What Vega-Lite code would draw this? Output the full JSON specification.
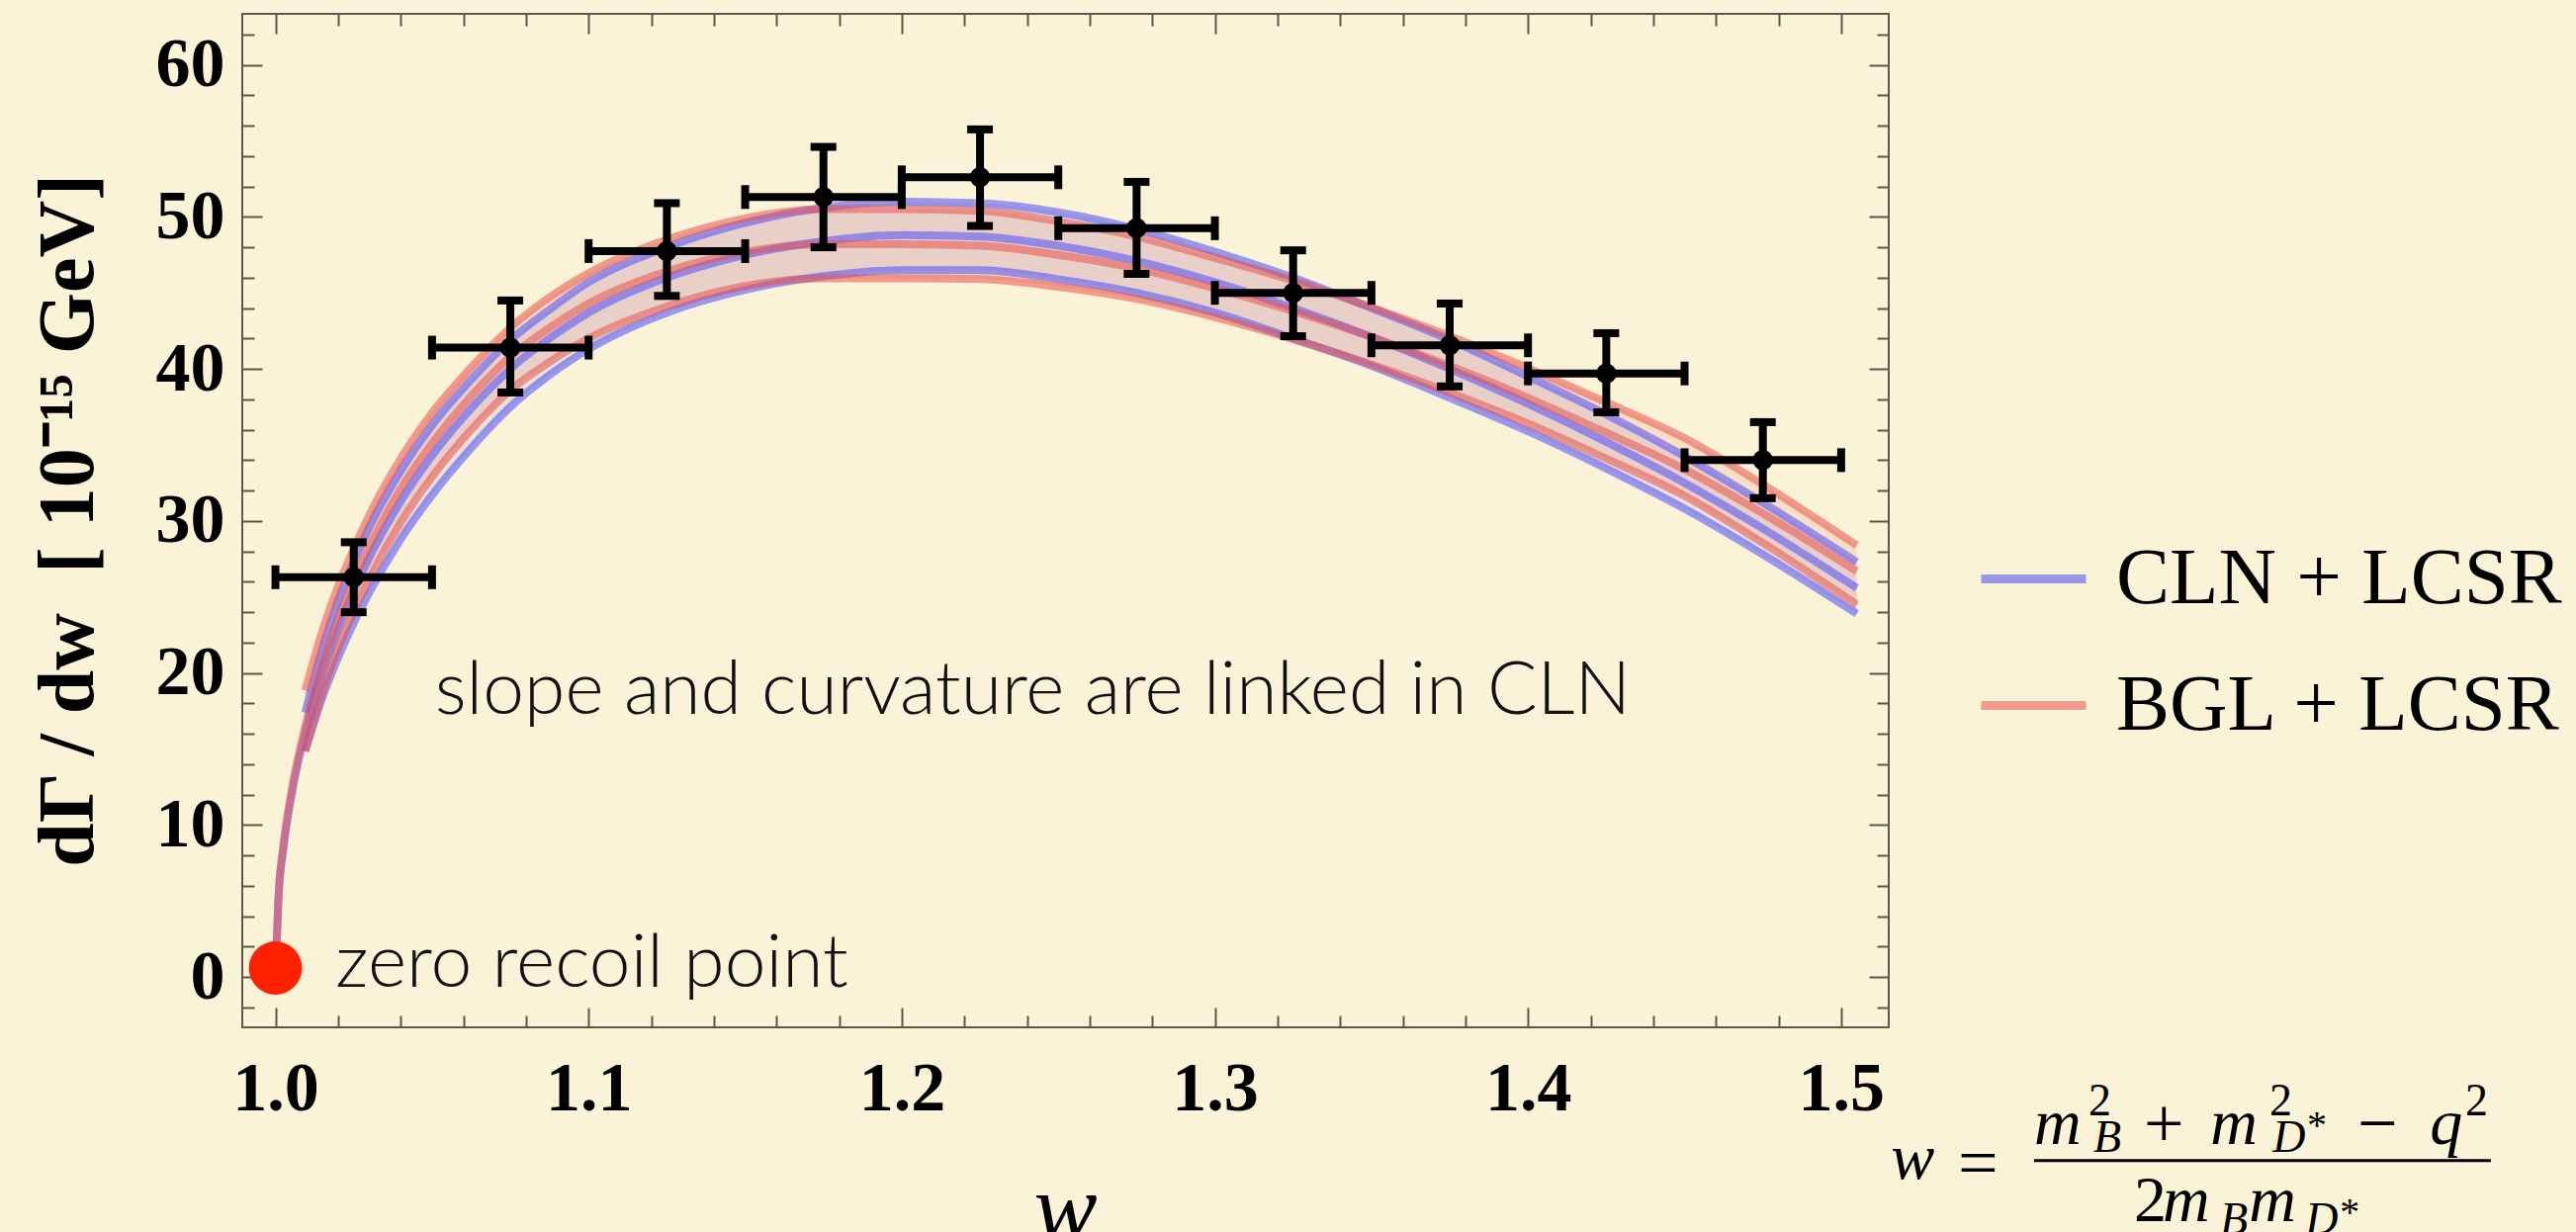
{
  "$schema": "https://vega.github.io/schema/vega-lite/v6.json",
  "width": 1665,
  "height": 1025,
  "autosize": "none",
  "padding": {"left": 245, "top": 14, "right": 695, "bottom": 207},
  "background": "#fbf3d8",
  "config": {
    "view": {"stroke": "#5c594c", "strokeWidth": 2},
    "axis": {"grid": false}
  },
  "datasets": {
    "curves": [
      {"model": "CLN + LCSR", "w": 1.0, "c": 0},
      {"model": "CLN + LCSR", "w": 1.001, "c": 5.3},
      {"model": "CLN + LCSR", "w": 1.0025, "c": 8.4},
      {"model": "CLN + LCSR", "w": 1.005, "c": 11.8},
      {"model": "CLN + LCSR", "w": 1.0095, "c": 16.1, "u": 17.4, "l": 14.85},
      {"model": "CLN + LCSR", "w": 1.015, "c": 20.0, "u": 21.6, "l": 18.4},
      {"model": "CLN + LCSR", "w": 1.02, "c": 22.9, "u": 24.7, "l": 21.0},
      {"model": "CLN + LCSR", "w": 1.025, "c": 25.4, "u": 27.3, "l": 23.3},
      {"model": "CLN + LCSR", "w": 1.03, "c": 27.6, "u": 29.6, "l": 25.3},
      {"model": "CLN + LCSR", "w": 1.04, "c": 31.3, "u": 33.3, "l": 28.8},
      {"model": "CLN + LCSR", "w": 1.05, "c": 34.3, "u": 36.3, "l": 31.7},
      {"model": "CLN + LCSR", "w": 1.0625, "c": 37.4, "u": 39.3, "l": 34.8},
      {"model": "CLN + LCSR", "w": 1.075, "c": 40.0, "u": 41.9, "l": 37.5},
      {"model": "CLN + LCSR", "w": 1.0875, "c": 42.0, "u": 43.9, "l": 39.6},
      {"model": "CLN + LCSR", "w": 1.1, "c": 43.7, "u": 45.7, "l": 41.3},
      {"model": "CLN + LCSR", "w": 1.125, "c": 46.0, "u": 48.0, "l": 43.7},
      {"model": "CLN + LCSR", "w": 1.15, "c": 47.5, "u": 49.6, "l": 45.2},
      {"model": "CLN + LCSR", "w": 1.175, "c": 48.4, "u": 50.6, "l": 46.1},
      {"model": "CLN + LCSR", "w": 1.2, "c": 48.8, "u": 51.0, "l": 46.5},
      {"model": "CLN + LCSR", "w": 1.225, "c": 48.7, "u": 50.9, "l": 46.5},
      {"model": "CLN + LCSR", "w": 1.25, "c": 48.1, "u": 50.3, "l": 45.9},
      {"model": "CLN + LCSR", "w": 1.275, "c": 47.1, "u": 49.2, "l": 45.0},
      {"model": "CLN + LCSR", "w": 1.3, "c": 45.7, "u": 47.7, "l": 43.7},
      {"model": "CLN + LCSR", "w": 1.325, "c": 44.0, "u": 46.0, "l": 42.0},
      {"model": "CLN + LCSR", "w": 1.35, "c": 42.1, "u": 44.0, "l": 40.2},
      {"model": "CLN + LCSR", "w": 1.375, "c": 40.0, "u": 41.9, "l": 38.1},
      {"model": "CLN + LCSR", "w": 1.4, "c": 37.7, "u": 39.5, "l": 35.9},
      {"model": "CLN + LCSR", "w": 1.425, "c": 35.2, "u": 37.0, "l": 33.45},
      {"model": "CLN + LCSR", "w": 1.45, "c": 32.5, "u": 34.25, "l": 30.8},
      {"model": "CLN + LCSR", "w": 1.475, "c": 29.5, "u": 31.2, "l": 27.8},
      {"model": "CLN + LCSR", "w": 1.505, "c": 25.6, "u": 27.3, "l": 23.9},
      {"model": "BGL + LCSR", "w": 1.0, "c": 0},
      {"model": "BGL + LCSR", "w": 1.001, "c": 5.4},
      {"model": "BGL + LCSR", "w": 1.0025, "c": 8.6},
      {"model": "BGL + LCSR", "w": 1.005, "c": 12.1},
      {"model": "BGL + LCSR", "w": 1.0095, "c": 16.5, "u": 18.85, "l": 14.9},
      {"model": "BGL + LCSR", "w": 1.015, "c": 20.5, "u": 22.8, "l": 18.7},
      {"model": "BGL + LCSR", "w": 1.02, "c": 23.5, "u": 25.7, "l": 21.6},
      {"model": "BGL + LCSR", "w": 1.025, "c": 26.05, "u": 28.15, "l": 24.05},
      {"model": "BGL + LCSR", "w": 1.03, "c": 28.3, "u": 30.4, "l": 26.2},
      {"model": "BGL + LCSR", "w": 1.04, "c": 32.1, "u": 34.1, "l": 29.9},
      {"model": "BGL + LCSR", "w": 1.05, "c": 35.1, "u": 37.1, "l": 32.9},
      {"model": "BGL + LCSR", "w": 1.0625, "c": 38.2, "u": 40.1, "l": 36.0},
      {"model": "BGL + LCSR", "w": 1.075, "c": 40.8, "u": 42.7, "l": 38.6},
      {"model": "BGL + LCSR", "w": 1.0875, "c": 42.7, "u": 44.7, "l": 40.45},
      {"model": "BGL + LCSR", "w": 1.1, "c": 44.3, "u": 46.3, "l": 42.0},
      {"model": "BGL + LCSR", "w": 1.125, "c": 46.4, "u": 48.5, "l": 44.1},
      {"model": "BGL + LCSR", "w": 1.15, "c": 47.7, "u": 49.9, "l": 45.45},
      {"model": "BGL + LCSR", "w": 1.175, "c": 48.2, "u": 50.5, "l": 45.95},
      {"model": "BGL + LCSR", "w": 1.2, "c": 48.2, "u": 50.5, "l": 45.95},
      {"model": "BGL + LCSR", "w": 1.225, "c": 48.1, "u": 50.4, "l": 45.9},
      {"model": "BGL + LCSR", "w": 1.25, "c": 47.5, "u": 49.7, "l": 45.4},
      {"model": "BGL + LCSR", "w": 1.275, "c": 46.6, "u": 48.7, "l": 44.6},
      {"model": "BGL + LCSR", "w": 1.3, "c": 45.3, "u": 47.3, "l": 43.4},
      {"model": "BGL + LCSR", "w": 1.325, "c": 43.8, "u": 45.8, "l": 41.95},
      {"model": "BGL + LCSR", "w": 1.35, "c": 42.1, "u": 44.05, "l": 40.3},
      {"model": "BGL + LCSR", "w": 1.375, "c": 40.2, "u": 42.15, "l": 38.45},
      {"model": "BGL + LCSR", "w": 1.4, "c": 38.1, "u": 40.05, "l": 36.4},
      {"model": "BGL + LCSR", "w": 1.425, "c": 35.8, "u": 37.8, "l": 34.1},
      {"model": "BGL + LCSR", "w": 1.45, "c": 33.4, "u": 35.45, "l": 31.65},
      {"model": "BGL + LCSR", "w": 1.475, "c": 30.5, "u": 32.4, "l": 28.55},
      {"model": "BGL + LCSR", "w": 1.505, "c": 26.7, "u": 28.4, "l": 24.5}
    ],
    "pts": [
      {"w": 1.025, "wlo": 1.0, "whi": 1.05, "v": 26.3, "lo": 24.0, "hi": 28.6},
      {"w": 1.075, "wlo": 1.05, "whi": 1.1, "v": 41.4, "lo": 38.45, "hi": 44.5},
      {"w": 1.125, "wlo": 1.1, "whi": 1.15, "v": 47.75, "lo": 44.8, "hi": 50.9},
      {"w": 1.175, "wlo": 1.15, "whi": 1.2, "v": 51.3, "lo": 48.0, "hi": 54.6},
      {"w": 1.225, "wlo": 1.2, "whi": 1.25, "v": 52.6, "lo": 49.4, "hi": 55.75},
      {"w": 1.275, "wlo": 1.25, "whi": 1.3, "v": 49.25, "lo": 46.25, "hi": 52.3},
      {"w": 1.325, "wlo": 1.3, "whi": 1.35, "v": 45.0, "lo": 42.15, "hi": 47.8},
      {"w": 1.375, "wlo": 1.35, "whi": 1.4, "v": 41.55, "lo": 38.85, "hi": 44.3},
      {"w": 1.425, "wlo": 1.4, "whi": 1.45, "v": 39.7, "lo": 37.15, "hi": 42.35},
      {"w": 1.475, "wlo": 1.45, "whi": 1.5, "v": 34.0, "lo": 31.5, "hi": 36.5}
    ],
    "carrier": [{"a": 1.2, "b": 30}]
  },
  "layer": [
    {
      "data": {"name": "curves"},
      "transform": [{"filter": "datum.model === 'CLN + LCSR'"}],
      "mark": {"type": "area", "interpolate": "monotone", "color": "#4c4cf7", "opacity": 0.1, "invalid": "filter"},
      "encoding": {
        "x": {"field": "w", "type": "quantitative", "scale": {"domain": [0.9894, 1.5152], "nice": false, "zero": false}, "axis": null},
        "y": {"field": "l", "type": "quantitative", "scale": {"domain": [-3.3, 63.35], "nice": false, "zero": false}, "axis": null},
        "y2": {"field": "u"}
      }
    },
    {
      "data": {"name": "curves"},
      "transform": [{"filter": "datum.model === 'BGL + LCSR'"}],
      "mark": {"type": "area", "interpolate": "monotone", "color": "#ea524c", "opacity": 0.12, "invalid": "filter"},
      "encoding": {
        "x": {"field": "w", "type": "quantitative", "scale": {"domain": [0.9894, 1.5152], "nice": false, "zero": false}, "axis": null},
        "y": {"field": "l", "type": "quantitative", "scale": {"domain": [-3.3, 63.35], "nice": false, "zero": false}, "axis": null},
        "y2": {"field": "u"}
      }
    },
    {
      "data": {"name": "curves"},
      "transform": [{"fold": ["u", "c", "l"], "as": ["level", "val"]}],
      "mark": {"type": "line", "interpolate": "monotone", "strokeWidth": 8, "opacity": 0.55, "strokeCap": "butt", "invalid": "filter"},
      "encoding": {
        "x": {"field": "w", "type": "quantitative", "scale": {"domain": [0.9894, 1.5152], "nice": false, "zero": false}, "axis": null},
        "y": {"field": "val", "type": "quantitative", "scale": {"domain": [-3.3, 63.35], "nice": false, "zero": false}, "axis": null},
        "color": {
          "field": "model", "type": "nominal",
          "scale": {"domain": ["CLN + LCSR", "BGL + LCSR"], "range": ["#4c4cf7", "#ea524c"]},
          "legend": {
            "title": null, "orient": "none", "legendX": 1754, "legendY": 514,
            "symbolType": "stroke", "symbolSize": 11236, "symbolStrokeWidth": 9, "symbolOpacity": 0.55,
            "labelFont": "Liberation Serif", "labelFontSize": 81, "labelColor": "black",
            "labelOffset": 26, "rowPadding": 30, "padding": 0, "labelLimit": 0
          }
        },
        "detail": {"field": "level"}
      }
    },
    {
      "data": {"name": "pts"},
      "mark": {"type": "rule", "strokeWidth": 8, "color": "black", "strokeCap": "butt"},
      "encoding": {
        "x": {"field": "w", "type": "quantitative", "scale": {"domain": [0.9894, 1.5152], "nice": false, "zero": false}, "axis": null},
        "y": {"field": "lo", "type": "quantitative", "scale": {"domain": [-3.3, 63.35], "nice": false, "zero": false}, "axis": null},
        "y2": {"field": "hi"}
      }
    },
    {
      "data": {"name": "pts"},
      "mark": {"type": "rule", "strokeWidth": 8, "color": "black", "strokeCap": "butt"},
      "encoding": {
        "x": {"field": "wlo", "type": "quantitative", "scale": {"domain": [0.9894, 1.5152], "nice": false, "zero": false}, "axis": null},
        "x2": {"field": "whi"},
        "y": {"field": "v", "type": "quantitative", "scale": {"domain": [-3.3, 63.35], "nice": false, "zero": false}, "axis": null}
      }
    },
    {
      "data": {"name": "pts"},
      "mark": {"type": "tick", "orient": "horizontal", "size": 26, "thickness": 8, "color": "black", "opacity": 1},
      "encoding": {
        "x": {"field": "w", "type": "quantitative", "scale": {"domain": [0.9894, 1.5152], "nice": false, "zero": false}, "axis": null},
        "y": {"field": "lo", "type": "quantitative", "scale": {"domain": [-3.3, 63.35], "nice": false, "zero": false}, "axis": null}
      }
    },
    {
      "data": {"name": "pts"},
      "mark": {"type": "tick", "orient": "horizontal", "size": 26, "thickness": 8, "color": "black", "opacity": 1},
      "encoding": {
        "x": {"field": "w", "type": "quantitative", "scale": {"domain": [0.9894, 1.5152], "nice": false, "zero": false}, "axis": null},
        "y": {"field": "hi", "type": "quantitative", "scale": {"domain": [-3.3, 63.35], "nice": false, "zero": false}, "axis": null}
      }
    },
    {
      "data": {"name": "pts"},
      "mark": {"type": "tick", "orient": "vertical", "size": 24, "thickness": 8, "color": "black", "opacity": 1},
      "encoding": {
        "x": {"field": "wlo", "type": "quantitative", "scale": {"domain": [0.9894, 1.5152], "nice": false, "zero": false}, "axis": null},
        "y": {"field": "v", "type": "quantitative", "scale": {"domain": [-3.3, 63.35], "nice": false, "zero": false}, "axis": null}
      }
    },
    {
      "data": {"name": "pts"},
      "mark": {"type": "tick", "orient": "vertical", "size": 24, "thickness": 8, "color": "black", "opacity": 1},
      "encoding": {
        "x": {"field": "whi", "type": "quantitative", "scale": {"domain": [0.9894, 1.5152], "nice": false, "zero": false}, "axis": null},
        "y": {"field": "v", "type": "quantitative", "scale": {"domain": [-3.3, 63.35], "nice": false, "zero": false}, "axis": null}
      }
    },
    {
      "data": {"name": "pts"},
      "mark": {"type": "circle", "size": 420, "color": "black", "opacity": 1},
      "encoding": {
        "x": {"field": "w", "type": "quantitative", "scale": {"domain": [0.9894, 1.5152], "nice": false, "zero": false}, "axis": null},
        "y": {"field": "v", "type": "quantitative", "scale": {"domain": [-3.3, 63.35], "nice": false, "zero": false}, "axis": null}
      }
    },
    {
      "data": {"values": [{"w": 1.0, "v": 0.6}]},
      "mark": {"type": "circle", "size": 2900, "color": "#ff2200", "opacity": 1},
      "encoding": {
        "x": {"field": "w", "type": "quantitative", "scale": {"domain": [0.9894, 1.5152], "nice": false, "zero": false}, "axis": null},
        "y": {"field": "v", "type": "quantitative", "scale": {"domain": [-3.3, 63.35], "nice": false, "zero": false}, "axis": null}
      }
    },
    {
      "data": {"values": [
        {"t": "slope and curvature are linked in CLN", "w": 1.0509, "v": 17.3},
        {"t": "zero recoil point", "w": 1.0192, "v": -0.65}
      ]},
      "mark": {"type": "text", "font": "Lato", "fontWeight": 300, "fontSize": 75, "align": "left", "baseline": "alphabetic", "color": "#111111"},
      "encoding": {
        "x": {"field": "w", "type": "quantitative", "scale": {"domain": [0.9894, 1.5152], "nice": false, "zero": false}, "axis": null},
        "y": {"field": "v", "type": "quantitative", "scale": {"domain": [-3.3, 63.35], "nice": false, "zero": false}, "axis": null},
        "text": {"field": "t"}
      }
    },
    {
      "data": {"values": [
        {"t": "w", "w": 1.5159, "v": -13.22},
        {"t": "m", "w": 1.5616, "v": -10.95},
        {"t": "m", "w": 1.6179, "v": -10.95},
        {"t": "q", "w": 1.688, "v": -10.95},
        {"t": "m", "w": 1.6027, "v": -16.06},
        {"t": "m", "w": 1.6302, "v": -16.06}
      ]},
      "mark": {"type": "text", "font": "Liberation Serif", "fontStyle": "italic", "fontSize": 66, "align": "left", "baseline": "alphabetic", "color": "black"},
      "encoding": {
        "x": {"field": "w", "type": "quantitative", "scale": {"domain": [0.9894, 1.5152], "nice": false, "zero": false}, "axis": null},
        "y": {"field": "v", "type": "quantitative", "scale": {"domain": [-3.3, 63.35], "nice": false, "zero": false}, "axis": null},
        "text": {"field": "t"}
      }
    },
    {
      "data": {"values": [
        {"t": "2", "w": 1.5935, "v": -16.06}
      ]},
      "mark": {"type": "text", "font": "Liberation Serif", "fontSize": 66, "align": "left", "baseline": "alphabetic", "color": "black"},
      "encoding": {
        "x": {"field": "w", "type": "quantitative", "scale": {"domain": [0.9894, 1.5152], "nice": false, "zero": false}, "axis": null},
        "y": {"field": "v", "type": "quantitative", "scale": {"domain": [-3.3, 63.35], "nice": false, "zero": false}, "axis": null},
        "text": {"field": "t"}
      }
    },
    {
      "data": {"values": [
        {"t": "=", "w": 1.5373, "v": -12.33},
        {"t": "+", "w": 1.5967, "v": -9.73},
        {"t": "−", "w": 1.6649, "v": -9.73}
      ]},
      "mark": {"type": "text", "font": "Liberation Serif", "fontSize": 72, "align": "left", "baseline": "middle", "color": "black"},
      "encoding": {
        "x": {"field": "w", "type": "quantitative", "scale": {"domain": [0.9894, 1.5152], "nice": false, "zero": false}, "axis": null},
        "y": {"field": "v", "type": "quantitative", "scale": {"domain": [-3.3, 63.35], "nice": false, "zero": false}, "axis": null},
        "text": {"field": "t"}
      }
    },
    {
      "data": {"values": [
        {"t": "2", "w": 1.579, "v": -9.1},
        {"t": "2", "w": 1.6368, "v": -9.1},
        {"t": "2", "w": 1.6993, "v": -9.1}
      ]},
      "mark": {"type": "text", "font": "Liberation Serif", "fontSize": 46, "align": "left", "baseline": "alphabetic", "color": "black"},
      "encoding": {
        "x": {"field": "w", "type": "quantitative", "scale": {"domain": [0.9894, 1.5152], "nice": false, "zero": false}, "axis": null},
        "y": {"field": "v", "type": "quantitative", "scale": {"domain": [-3.3, 63.35], "nice": false, "zero": false}, "axis": null},
        "text": {"field": "t"}
      }
    },
    {
      "data": {"values": [
        {"t": "B", "w": 1.5806, "v": -11.48},
        {"t": "D", "w": 1.6378, "v": -11.48},
        {"t": "B", "w": 1.621, "v": -16.88},
        {"t": "D", "w": 1.6482, "v": -16.88}
      ]},
      "mark": {"type": "text", "font": "Liberation Serif", "fontStyle": "italic", "fontSize": 46, "align": "left", "baseline": "alphabetic", "color": "black"},
      "encoding": {
        "x": {"field": "w", "type": "quantitative", "scale": {"domain": [0.9894, 1.5152], "nice": false, "zero": false}, "axis": null},
        "y": {"field": "v", "type": "quantitative", "scale": {"domain": [-3.3, 63.35], "nice": false, "zero": false}, "axis": null},
        "text": {"field": "t"}
      }
    },
    {
      "data": {"values": [
        {"t": "*", "w": 1.6488, "v": -10.6},
        {"t": "*", "w": 1.6593, "v": -16.3}
      ]},
      "mark": {"type": "text", "font": "Liberation Serif", "fontSize": 40, "align": "left", "baseline": "alphabetic", "color": "black"},
      "encoding": {
        "x": {"field": "w", "type": "quantitative", "scale": {"domain": [0.9894, 1.5152], "nice": false, "zero": false}, "axis": null},
        "y": {"field": "v", "type": "quantitative", "scale": {"domain": [-3.3, 63.35], "nice": false, "zero": false}, "axis": null},
        "text": {"field": "t"}
      }
    },
    {
      "data": {"values": [{"w1": 1.5616, "w2": 1.7075, "v": -12.07}]},
      "mark": {"type": "rule", "strokeWidth": 3, "color": "black"},
      "encoding": {
        "x": {"field": "w1", "type": "quantitative", "scale": {"domain": [0.9894, 1.5152], "nice": false, "zero": false}, "axis": null},
        "x2": {"field": "w2"},
        "y": {"field": "v", "type": "quantitative", "scale": {"domain": [-3.3, 63.35], "nice": false, "zero": false}, "axis": null}
      }
    },
    {
      "data": {"name": "carrier"},
      "mark": {"type": "point", "opacity": 0},
      "encoding": {
        "x": {"field": "a", "type": "quantitative", "scale": {"domain": [0.9894, 1.5152], "nice": false, "zero": false},
          "axis": {"orient": "bottom", "values": [1.0, 1.1, 1.2, 1.3, 1.4, 1.5], "format": ".1f", "ticks": false, "domain": false, "grid": false,
            "labelFont": "Liberation Serif", "labelFontSize": 70, "labelFontWeight": "bold", "labelColor": "black", "labelPadding": 28,
            "labelFlush": false, "labelOverlap": false, "labelBound": false,
            "title": "w", "titleFont": "Liberation Serif", "titleFontStyle": "italic", "titleFontWeight": "normal", "titleFontSize": 96,
            "titleX": 832, "titleY": 213, "titleAlign": "center", "titleBaseline": "alphabetic", "titleColor": "black"}},
        "y": {"field": "b", "type": "quantitative", "scale": {"domain": [-3.3, 63.35], "nice": false, "zero": false},
          "axis": {"orient": "left", "values": [0, 10, 20, 30, 40, 50, 60], "ticks": false, "domain": false, "grid": false,
            "labelFont": "Liberation Serif", "labelFontSize": 70, "labelFontWeight": "bold", "labelColor": "black", "labelPadding": 18,
            "labelOverlap": false, "labelBound": false, "labelFlush": false,
            "title": "dΓ / dw\u00a0\u00a0[ 10⁻¹⁵ GeV]", "titleFont": "Liberation Serif", "titleFontWeight": "bold", "titleFontSize": 80,
            "titleAngle": 270, "titleX": -176, "titleY": 512, "titleAlign": "center", "titleBaseline": "middle", "titleColor": "black"}}
      }
    },
    {
      "data": {"name": "carrier"},
      "mark": {"type": "point", "opacity": 0},
      "encoding": {
        "x": {"field": "a", "type": "quantitative", "scale": {"domain": [0.9894, 1.5152], "nice": false, "zero": false},
          "axis": {"orient": "top", "offset": -1025, "values": [1.0, 1.1, 1.2, 1.3, 1.4, 1.5], "labels": false, "domain": false, "grid": false, "title": null, "tickSize": 20, "tickWidth": 2, "tickColor": "#5a5648"}},
        "y": {"field": "b", "type": "quantitative", "scale": {"domain": [-3.3, 63.35], "nice": false, "zero": false},
          "axis": {"orient": "right", "offset": -1665, "values": [0, 10, 20, 30, 40, 50, 60], "labels": false, "domain": false, "grid": false, "title": null, "tickSize": 20, "tickWidth": 2, "tickColor": "#5a5648"}}
      }
    },
    {
      "data": {"name": "carrier"},
      "mark": {"type": "point", "opacity": 0},
      "encoding": {
        "x": {"field": "a", "type": "quantitative", "scale": {"domain": [0.9894, 1.5152], "nice": false, "zero": false},
          "axis": {"orient": "top", "offset": -1025, "values": [1.02, 1.04, 1.06, 1.08, 1.12, 1.14, 1.16, 1.18, 1.22, 1.24, 1.26, 1.28, 1.32, 1.34, 1.36, 1.38, 1.42, 1.44, 1.46, 1.48], "labels": false, "domain": false, "grid": false, "title": null, "tickSize": 12, "tickWidth": 2, "tickColor": "#5a5648"}},
        "y": {"field": "b", "type": "quantitative", "scale": {"domain": [-3.3, 63.35], "nice": false, "zero": false},
          "axis": {"orient": "right", "offset": -1665, "values": [-2, 2, 4, 6, 8, 12, 14, 16, 18, 22, 24, 26, 28, 32, 34, 36, 38, 42, 44, 46, 48, 52, 54, 56, 58, 62], "labels": false, "domain": false, "grid": false, "title": null, "tickSize": 12, "tickWidth": 2, "tickColor": "#5a5648"}}
      }
    },
    {
      "data": {"name": "carrier"},
      "mark": {"type": "point", "opacity": 0},
      "encoding": {
        "x": {"field": "a", "type": "quantitative", "scale": {"domain": [0.9894, 1.5152], "nice": false, "zero": false},
          "axis": {"orient": "bottom", "offset": -1025, "values": [1.0, 1.1, 1.2, 1.3, 1.4, 1.5], "labels": false, "domain": false, "grid": false, "title": null, "tickSize": 20, "tickWidth": 2, "tickColor": "#5a5648"}},
        "y": {"field": "b", "type": "quantitative", "scale": {"domain": [-3.3, 63.35], "nice": false, "zero": false},
          "axis": {"orient": "left", "offset": -1665, "values": [0, 10, 20, 30, 40, 50, 60], "labels": false, "domain": false, "grid": false, "title": null, "tickSize": 20, "tickWidth": 2, "tickColor": "#5a5648"}}
      }
    },
    {
      "data": {"name": "carrier"},
      "mark": {"type": "point", "opacity": 0},
      "encoding": {
        "x": {"field": "a", "type": "quantitative", "scale": {"domain": [0.9894, 1.5152], "nice": false, "zero": false},
          "axis": {"orient": "bottom", "offset": -1025, "values": [1.02, 1.04, 1.06, 1.08, 1.12, 1.14, 1.16, 1.18, 1.22, 1.24, 1.26, 1.28, 1.32, 1.34, 1.36, 1.38, 1.42, 1.44, 1.46, 1.48], "labels": false, "domain": false, "grid": false, "title": null, "tickSize": 12, "tickWidth": 2, "tickColor": "#5a5648"}},
        "y": {"field": "b", "type": "quantitative", "scale": {"domain": [-3.3, 63.35], "nice": false, "zero": false},
          "axis": {"orient": "left", "offset": -1665, "values": [-2, 2, 4, 6, 8, 12, 14, 16, 18, 22, 24, 26, 28, 32, 34, 36, 38, 42, 44, 46, 48, 52, 54, 56, 58, 62], "labels": false, "domain": false, "grid": false, "title": null, "tickSize": 12, "tickWidth": 2, "tickColor": "#5a5648"}}
      }
    }
  ],
  "resolve": {"axis": {"x": "independent", "y": "independent"}}
}
